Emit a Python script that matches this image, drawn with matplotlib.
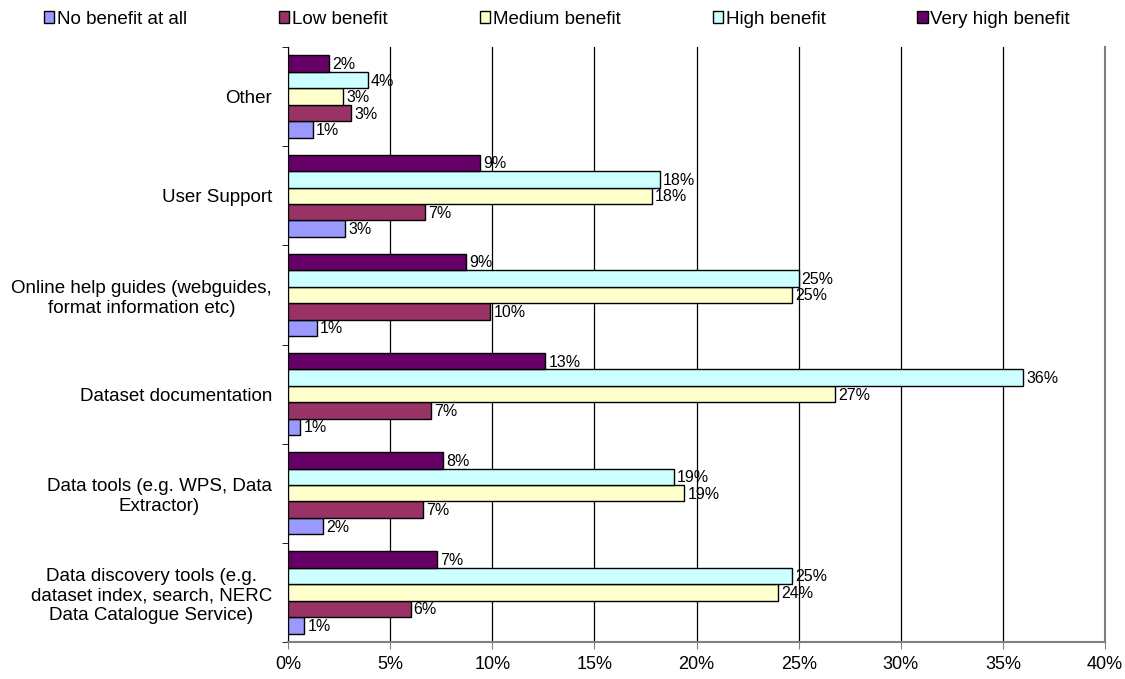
import numpy as np
import matplotlib
matplotlib.use("Agg")
import matplotlib.pyplot as plt
from matplotlib.ticker import MultipleLocator, PercentFormatter

plt.rcParams['font.family'] = ['Liberation Sans', 'DejaVu Sans']

# categories listed bottom to top
categories = [
    "Data discovery tools (e.g.\ndataset index, search, NERC\nData Catalogue Service)",
    "Data tools (e.g. WPS, Data\nExtractor)",
    "Dataset documentation",
    "Online help guides (webguides,\nformat information etc)",
    "User Support",
    "Other",
]
series_names = ["No benefit at all", "Low benefit", "Medium benefit", "High benefit", "Very high benefit"]
colors = ["#9999FF", "#993366", "#FFFFCC", "#CCFFFF", "#660066"]

no_benefit = [0.8, 1.7, 0.6, 1.4, 2.8, 1.2]
low_benefit = [6.0, 6.6, 7.0, 9.9, 6.7, 3.1]
medium_benefit = [24.0, 19.4, 26.8, 24.7, 17.8, 2.7]
high_benefit = [24.7, 18.9, 36.0, 25.0, 18.2, 3.9]
very_high_benefit = [7.3, 7.6, 12.6, 8.7, 9.4, 2.0]

values = [no_benefit, low_benefit, medium_benefit, high_benefit, very_high_benefit]

fig = plt.figure(figsize=(11.25, 6.79), dpi=100)
ax = fig.add_axes([288 / 1125, 1 - 642 / 679, (1105 - 288) / 1125, (642 - 47) / 679])

y = np.arange(len(categories))
h = 0.166
for i, (name, vals, col) in enumerate(zip(series_names, values, colors)):
    offs = (i - 2) * h
    bars = ax.barh(y + offs, vals, height=h, color=col, edgecolor="black",
                   linewidth=1.0, label=name, zorder=3)
    for b, v in zip(bars, vals):
        ax.text(v + 0.15, b.get_y() + b.get_height() / 2 - 0.01, f"{v:.0f}%",
                va="center", ha="left", fontsize=11.5, zorder=4)

ax.set_xlim(0, 40)
ax.set_ylim(-0.5, len(categories) - 0.5)
ax.xaxis.set_major_locator(MultipleLocator(5))
ax.xaxis.set_major_formatter(PercentFormatter(decimals=0))
ax.set_yticks(y)
ax.set_yticklabels(categories, fontsize=13.5, ha="right", multialignment="center")
ax.set_yticks(np.arange(-0.5, len(categories), 1), minor=True)
ax.tick_params(axis="y", which="major", length=0, pad=11.5)
ax.tick_params(axis="y", which="minor", length=4, color="black")
ax.tick_params(axis="x", length=5, color="#808080", labelsize=13, pad=5)
ax.grid(axis="x", color="black", linewidth=0.9, zorder=0)

ax.spines["top"].set_visible(False)
ax.spines["right"].set_color("#808080")
ax.spines["right"].set_linewidth(1.5)
ax.spines["bottom"].set_color("#808080")
ax.spines["bottom"].set_linewidth(1.5)
ax.spines["left"].set_color("black")

handles, labels = ax.get_legend_handles_labels()
fig.legend(handles, labels, loc="center left", bbox_to_anchor=(44 / 1125, 1 - 19 / 679),
           ncol=5, frameon=False, fontsize=13.5, handlelength=0.55, handleheight=0.55,
           handletextpad=0.15, columnspacing=4.9, borderpad=0, borderaxespad=0)

fig.savefig("out.png", dpi=100)
